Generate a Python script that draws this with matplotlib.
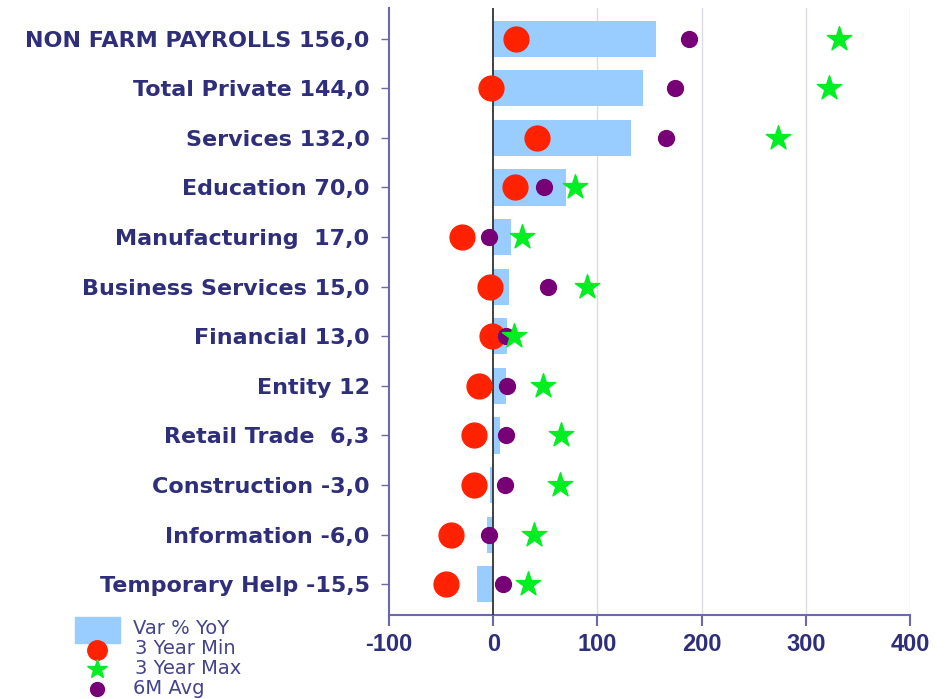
import matplotlib
matplotlib.use("Agg")
import matplotlib.pyplot as plt
from matplotlib.patches import Rectangle
from matplotlib.lines import Line2D

categories = ["NON FARM PAYROLLS 156,0", "Total Private 144,0", "Services 132,0",
              "Education 70,0", "Manufacturing  17,0", "Business Services 15,0",
              "Financial 13,0", "Entity 12", "Retail Trade  6,3", "Construction -3,0",
              "Information -6,0", "Temporary Help -15,5"]
var_yoy = [156.0, 144.0, 132.0, 70.0, 17.0, 15.0, 13.0, 12.0, 6.3, -3.0, -6.0, -15.5]
min_3y = [22, -2, 42, 21, -30, -3, -1, -14, -18, -18, -41, -45]
max_3y = [332, 322, 273, 78, 28, 90, 20, 48, 65, 64, 39, 33]
avg_6m = [188, 174, 166, 49, -4, 53, 12, 13, 12, 11, -4, 9]
xticks = [-100, 0, 100, 200, 300, 400]
legend_labels = ["Var % YoY", "3 Year Min", "3 Year Max", "6M Avg"]

navy = "#2e2e7a"
bar_c = "#99ccff"
red_c = "#ff2200"
green_c = "#00ee22"
purple_c = "#770077"
spine_c = "#6a6aa8"

plt.rcParams["font.family"] = ["DejaVu Sans"]

fig = plt.figure(figsize=(9.47, 6.99), dpi=100)
ax = fig.add_axes([0.4108, 0.1202, 0.961 - 0.4108, 0.9886 - 0.1202])

y = list(range(len(categories)))
ax.barh(y, var_yoy, height=0.73, color=bar_c, zorder=2)
ax.axvline(0, color="#333333", lw=1.3, zorder=3)
ax.scatter(min_3y, y, s=320, color=red_c, zorder=4)
ax.scatter(avg_6m, y, s=130, color=purple_c, zorder=5)
ax.scatter(max_3y, y, s=340, marker="*", color=green_c, zorder=6)

ax.set_xlim(-100, 400)
ax.set_ylim(len(categories) - 1 + 0.62, -0.62)
ax.set_xticks(xticks)
ax.set_xticklabels([str(t) for t in xticks])
ax.set_yticks(y)
ax.set_yticklabels(categories)
for lab in ax.get_yticklabels():
    lab.set_fontweight("bold")
    lab.set_fontsize(16)
    lab.set_color(navy)
for lab in ax.get_xticklabels():
    lab.set_family(["Liberation Sans", "DejaVu Sans"])
    lab.set_fontweight("bold")
    lab.set_fontsize(17)
    lab.set_color(navy)
ax.tick_params(axis="y", length=6, color=spine_c, width=1, pad=8)
ax.tick_params(axis="x", length=8, color=spine_c, width=1.5, pad=5)
for xv in xticks[2:]:
    ax.axvline(xv, color="#dcdce4", lw=1, zorder=1)
ax.spines["top"].set_visible(False)
ax.spines["right"].set_visible(False)
ax.spines["left"].set_color(spine_c)
ax.spines["bottom"].set_color(spine_c)
ax.spines["left"].set_linewidth(1.5)
ax.spines["bottom"].set_linewidth(1.5)

# legend drawn manually
W, H = 947, 699
def fx(px):
    return px / W
def fy(py):
    return 1 - py / H
fig.add_artist(Rectangle((fx(75), fy(643)), fx(120) - fx(75), fy(617) - fy(643),
                         transform=fig.transFigure, color=bar_c))
fig.add_artist(Line2D([fx(97)], [fy(650)], marker="o", markersize=14, color=red_c,
                      linestyle="none", transform=fig.transFigure))
fig.add_artist(Line2D([fx(97)], [fy(669)], marker="*", markersize=15, color=green_c,
                      linestyle="none", transform=fig.transFigure))
fig.add_artist(Line2D([fx(97)], [fy(689)], marker="o", markersize=10, color=purple_c,
                      linestyle="none", transform=fig.transFigure))
for lab, py, px in zip(legend_labels, [629, 649, 669, 689], [133, 135, 135, 133]):
    fig.text(fx(px), fy(py), lab, color="#44448a", fontsize=14, va="center", ha="left")

fig.savefig("out.png", dpi=100)
